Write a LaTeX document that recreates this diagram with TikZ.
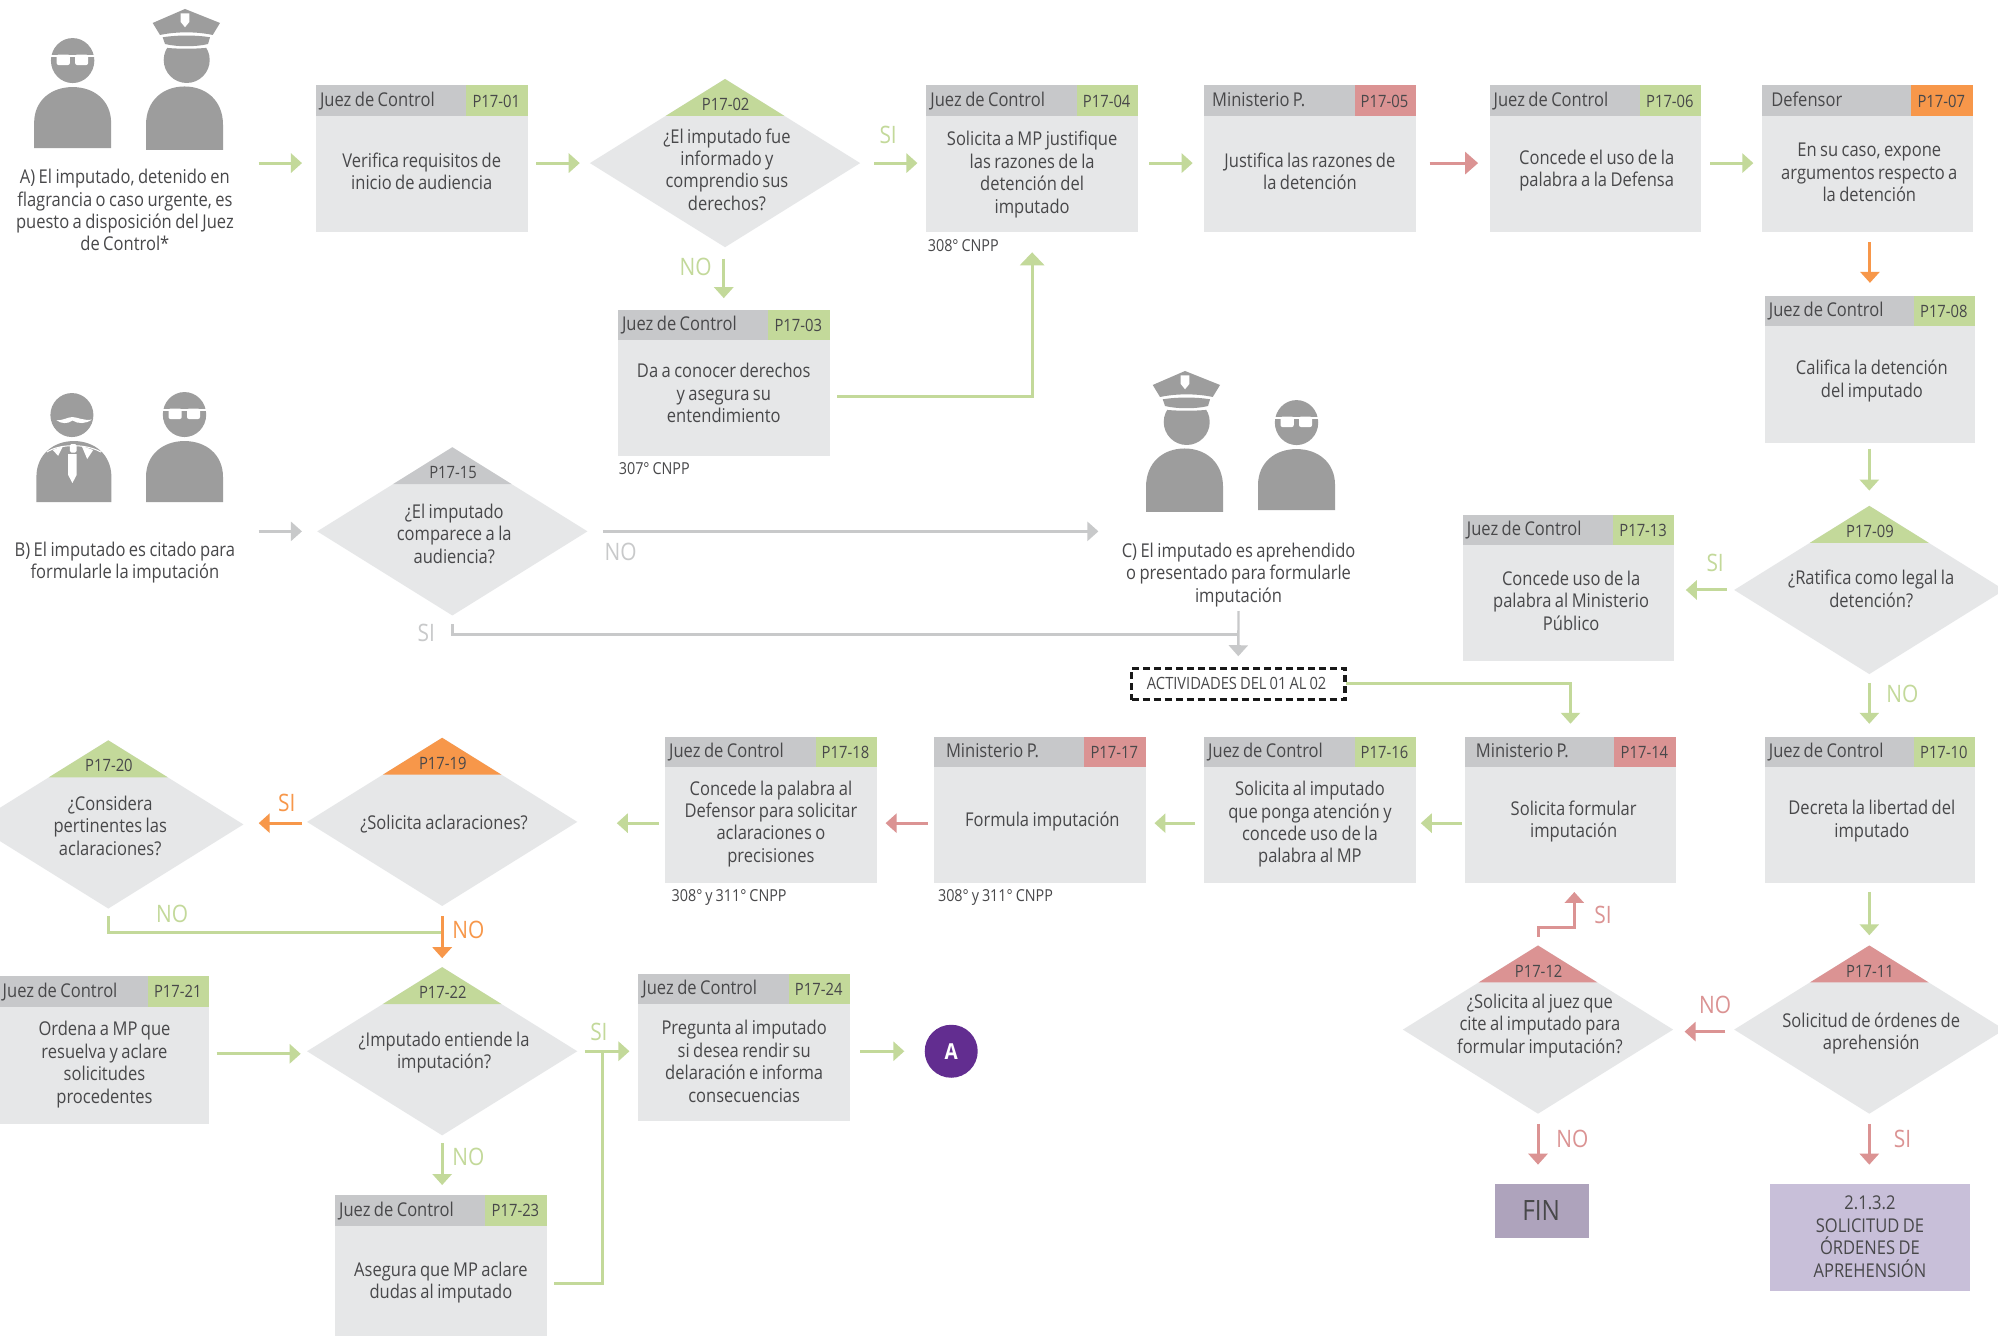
\documentclass[tikz,border=0pt]{standalone}
\usepackage{fontspec}
\setmainfont[FakeStretch=0.87,WordSpace=0.8]{Open Sans}
\usetikzlibrary{arrows.meta,fit,shapes.geometric,calc}
\definecolor{boxg}{HTML}{E6E7E8}
\definecolor{headg}{HTML}{C7C8CA}
\definecolor{cgreen}{HTML}{C3D99A}
\definecolor{cred}{HTML}{DB9393}
\definecolor{corange}{HTML}{F7974A}
\definecolor{cgray}{HTML}{C8C9CA}
\definecolor{ink}{HTML}{48484A}
\definecolor{iconc}{HTML}{9D9D9D}
\definecolor{purp}{HTML}{622D90}
\definecolor{finc}{HTML}{AEA3BC}
\definecolor{lavc}{HTML}{C8BFD9}
\newcommand\bodyfont{\fontsize{19}{22.4}\selectfont}
\newcommand\codefont{\fontsize{17}{18}\selectfont}
\newcommand\rolefont{\fontsize{19}{22}\selectfont}
\newcommand\notefont{\fontsize{16.5}{18}\selectfont}
\newcommand\labfont{\fontsize{24}{26}\selectfont}
\def\tdx{0}\def\tdy{0}
\newcommand\ts[2]{\def\tdx{#1}\def\tdy{#2}}
% process box: name,left,top,right,bottom,role,code,colour,text
\newcommand\pbox[9]{%
  \node[fit={(#2,#3)(#4,#5)},inner sep=0pt,outer sep=0pt,fill=boxg] (#1) {};
  \node[fit={(#2,#3)({#4-48},{#3+24})},inner sep=0pt,outer sep=0pt,fill=headg] (#1-h) {};
  \node[fit={({#4-48},#3)(#4,{#3+24})},inner sep=0pt,outer sep=0pt,fill=#8] (#1-c) {};
  \node[anchor=base west,inner sep=0pt,text=ink,font=\rolefont] (#1-r) at ({#2+3},{#3+16.5}) {#6};
  \node[anchor=base,inner sep=0pt,text=ink,font=\codefont] (#1-k) at ({#4-24.5},{#3+17}) {#7};
  \node[inner sep=0pt,align=center,text=ink,font=\bodyfont] (#1-t) at ({(#2+#4)/2+\tdx},{(#3+24+#5)/2-1+\tdy}) {#9};
  \ts{0}{0}%
}
% decision: name,cx,cy,code,colour,text y,text
\newcommand\pdiam[7]{%
  \node[diamond,aspect=1.6,minimum width=270.2pt,minimum height=168.2pt,inner sep=0pt,outer sep=0pt,fill=boxg] (#1) at (#2,#3) {};
  \fill[#5] (#1.north) -- ++(-46.6,29) -- ++(93.2,0) -- cycle;
  \node[inner sep=0pt,text=ink,font=\codefont] (#1-k) at ({#2+0.5},{#3-46}) {#4};
  \node[inner sep=0pt,align=center,text=ink,font=\bodyfont] (#1-t) at ({#2+1.5},#6) {#7};
}
\newcommand\headglass{%
  \fill[iconc] (0,87.5) ellipse [x radius=21.7,y radius=22.5];
  \fill[white] (-23,91) rectangle (23,93);
  \fill[white,rounded corners=2pt] (-16,83) rectangle (-2.8,93.5);
  \fill[white,rounded corners=2pt] (2.5,83) rectangle (15.5,93.5);
}
\newcommand\iconimp[1]{\begin{scope}[shift={(#1)},x=1pt,y=1pt]
  \fill[iconc] (-38.5,0) -- (-38.5,25) .. controls (-38.5,48) and (-21,61) .. (0,61) .. controls (21,61) and (38.5,48) .. (38.5,25) -- (38.5,0) -- cycle;
  \headglass
\end{scope}}
\newcommand\iconoff[1]{\begin{scope}[shift={(#1)},x=1pt,y=1pt]
  \fill[iconc] (-38.5,0) -- (-38.5,25) .. controls (-38.5,50) and (-21,63.5) .. (0,63.5) .. controls (21,63.5) and (38.5,50) .. (38.5,25) -- (38.5,0) -- cycle;
  \begin{scope}\clip (-30,60) -- (-30,103.5) .. controls (-10,100.5) and (14,100.5) .. (34,103.5) -- (34,60) -- cycle;
    \fill[iconc] (2.2,90) circle [radius=23];
  \end{scope}
  \fill[iconc] (-21.8,112.7) .. controls (-8,115) and (12,115) .. (25.5,112.7) -- (23.5,106) .. controls (12,103) and (-8,103) .. (-19.5,106) -- cycle;
  \fill[iconc] (-31.8,127) -- (0.5,141) -- (35.5,127) -- (28.2,115) .. controls (12,118.5) and (-8,118.5) .. (-24.5,115) -- cycle;
  \fill[white] (-3.8,136.7) -- (4.8,136.7) -- (4.8,128) -- (0.5,122.7) -- (-3.8,128) -- cycle;
\end{scope}}
\newcommand\iconlaw[1]{\begin{scope}[shift={(#1)},x=1pt,y=1pt]
  \fill[iconc] (-37.5,0) -- (-37.5,25) .. controls (-37.5,48) and (-20,61) .. (0,61) .. controls (20,61) and (37.5,48) .. (37.5,25) -- (37.5,0) -- cycle;
  \fill[iconc] (-2,87) ellipse [x radius=21.5,y radius=22];
  \fill[white] (-17.5,82) .. controls (-12,81) and (-6,85) .. (-1.5,85) .. controls (3,85) and (10,81) .. (18,82.5) .. controls (12,78) and (4,78) .. (-1.3,81.5) .. controls (-6,78) and (-13,78) .. (-17.5,82) -- cycle;
  \draw[white,line width=1pt] (-27,50) .. controls (-14,58.5) and (12,58.5) .. (27,50);
  \fill[white] (-21.3,52) -- (-10.7,56.3) -- (-15.7,46.3) -- cycle;
  \fill[white] (19.3,52) -- (7.7,56.3) -- (13.3,43) -- cycle;
  \fill[white,rounded corners=1.5pt] (-4,49.5) rectangle (2.7,58);
  \fill[white] (-5.7,48) -- (2.7,48) -- (2.7,27) -- (-1.5,19) -- (-5.7,27) -- cycle;
\end{scope}}
\tikzset{
  conn/.style={line width=3pt},
  garr/.style={conn,draw=cgreen,-{Triangle[length=11pt,width=19pt]},cgreen},
  rarr/.style={conn,draw=cred,-{Triangle[length=11pt,width=19pt]},cred},
  oarr/.style={conn,draw=corange,-{Triangle[length=11pt,width=19pt]},corange},
  carr/.style={line width=2.4pt,draw=cgray,-{Triangle[length=11pt,width=19pt]},cgray},
  cgap/.style 2 args={shorten <=#1*1.2742pt,shorten >=#2*1.2742pt},
  lab/.style={inner sep=0pt,font=\labfont},
  note/.style={inner sep=0pt,anchor=west,text=ink,font=\notefont},
  freetext/.style={inner sep=0pt,outer sep=0pt,align=center,text=ink,font=\bodyfont,minimum width=#1*1.2742pt},
}
\begin{document}
\begin{tikzpicture}[x=1.2742pt,y=-1.2742pt]
\path[use as bounding box,clip] (0,0) rectangle (1568,1048);
\fill[white] (0,0) rectangle (1568,1048);
% icons
\iconimp{57,116.2}
\iconoff{144.8,117.7}
\iconlaw{58,394}
\iconimp{144.8,394}
\iconoff{929.6,401.8}
\iconimp{1017.5,400.3}
% free texts
\node[freetext=190] (tA) at (98,165) {A) El imputado, detenido en\\flagrancia o caso urgente, es\\puesto a disposición del Juez\\de Control*};
\node[freetext=190] (tB) at (98,441.5) {B) El imputado es citado para\\formularle la imputación};
\node[freetext=196] (tC) at (972,451) {C) El imputado es aprehendido\\o presentado para formularle\\imputación};
% boxes
\ts{0}{-1}\pbox{p01}{248}{67}{414}{182}{Juez de Control}{P17-01}{cgreen}{Verifica requisitos de\\inicio de audiencia}
\ts{0}{1.5}\pbox{p04}{727}{67}{893}{182}{Juez de Control}{P17-04}{cgreen}{Solicita a MP justifique\\las razones de la\\detención del\\imputado}
\ts{0}{-1}\pbox{p05}{945}{67}{1111}{182}{\hspace*{4pt}Ministerio P.}{P17-05}{cred}{Justifica las razones de\\la detención}
\ts{1}{-1.5}\pbox{p06}{1169}{67}{1335}{182}{Juez de Control}{P17-06}{cgreen}{Concede el uso de la\\palabra a la Defensa}
\ts{1.5}{0}\pbox{p07}{1383}{67}{1548}{182}{\hspace*{5pt}Defensor}{P17-07}{corange}{En su caso, expone\\argumentos respecto a\\la detención}
\ts{0}{-3}\pbox{p03}{485}{243}{651}{358}{Juez de Control}{P17-03}{cgreen}{Da a conocer derechos\\y asegura su\\entendimiento}
\ts{1.5}{-2}\pbox{p08}{1385}{232}{1550}{348}{Juez de Control}{P17-08}{cgreen}{Califica la detención\\del imputado}
\ts{2}{-1}\pbox{p13}{1148}{404}{1314}{519}{Juez de Control}{P17-13}{cgreen}{Concede uso de la\\palabra al Ministerio\\Público}
\ts{1.5}{-2}\pbox{p10}{1385}{578}{1550}{693}{Juez de Control}{P17-10}{cgreen}{Decreta la libertad del\\imputado}
\ts{2.5}{-2}\pbox{p14}{1150}{578}{1315}{693}{\hspace*{6.5pt}Ministerio P.}{P17-14}{cred}{Solicita formular\\imputación}
\ts{0}{0.5}\pbox{p16}{945}{578}{1111}{693}{Juez de Control}{P17-16}{cgreen}{Solicita al imputado\\que ponga atención y\\concede uso de la\\palabra al MP}
\ts{2}{-2}\pbox{p17}{733}{578}{899}{693}{\hspace*{8pt}Ministerio P.}{P17-17}{cred}{Formula imputación}
\pbox{p18}{522}{578}{688}{693}{Juez de Control}{P17-18}{cgreen}{Concede la palabra al\\Defensor para solicitar\\aclaraciones o\\precisiones}
\ts{0.5}{0.5}\pbox{p21}{-1}{766}{164}{882}{Juez de Control}{P17-21}{cgreen}{Ordena a MP que\\resuelva y aclare\\solicitudes\\procedentes}
\pbox{p24}{501}{764}{667}{880}{Juez de Control}{P17-24}{cgreen}{Pregunta al imputado\\si desea rendir su\\delaración e informa\\consecuencias}
\pbox{p23}{263}{938}{429}{1053}{Juez de Control}{P17-23}{cgreen}{Asegura que MP aclare\\dudas al imputado}
% decisions
\pdiam{d02}{569}{128}{P17-02}{cgreen}{133}{¿El imputado fue\\informado y\\comprendio sus\\derechos?}
\pdiam{d15}{355}{417}{P17-15}{headg}{419}{¿El imputado\\comparece a la\\audiencia?}
\pdiam{d09}{1467}{463}{P17-09}{cgreen}{462}{¿Ratifica como legal la\\detención?}
\pdiam{d11}{1467}{808}{P17-11}{cred}{811}{Solicitud de órdenes de\\aprehensión}
\pdiam{d12}{1207}{808}{P17-12}{cred}{805}{¿Solicita al juez que\\cite al imputado para\\formular imputación?}
\pdiam{d19}{347}{645}{P17-19}{corange}{647}{¿Solicita aclaraciones?}
\pdiam{d20}{85}{647}{P17-20}{cgreen}{648}{¿Considera\\pertinentes las\\aclaraciones?}
\pdiam{d22}{347}{825}{P17-22}{cgreen}{826}{¿Imputado entiende la\\imputación?}
% terminals
\node[fit={(1173,929)(1247,971.6)},inner sep=0pt,outer sep=0pt,fill=finc] (fin) {};
\node[inner sep=0pt,text=ink,font=\fontsize{28}{30}\selectfont] (fint) at (1209.5,950) {FIN};
\node[fit={(1389,929)(1546,1013)},inner sep=0pt,outer sep=0pt,fill=lavc] (b213) {};
\node[inner sep=0pt,align=center,text=ink,font=\bodyfont] (b213t) at (1467.5,970.5) {2.1.3.2\\SOLICITUD DE\\ÓRDENES DE\\APREHENSIÓN};
\node[circle,fill=purp,minimum size=53pt,inner sep=0pt,outer sep=0pt,text=white,font=\fontsize{22}{24}\selectfont\bfseries] (ca) at (746.5,825) {A};
\node[fit={(888,524.5)(1055.5,549)},inner sep=0pt,outer sep=0pt,draw=black!90,line width=3.6pt,dash pattern=on 7pt off 4pt] (act) {};
\node[inner sep=0pt,text=ink,font=\fontsize{16.9}{18}\selectfont] (actt) at (970.5,536.5) {ACTIVIDADES DEL 01 AL 02};
% notes
\node[note] (n04) at (728,193) {308° CNPP};
\node[note] (n03) at (485.5,368) {307° CNPP};
\node[note] (n18) at (527,704.5) {308° y 311° CNPP};
\node[note] (n17) at (736,704.5) {308° y 311° CNPP};
% helpers
\coordinate (rowC) at (0,646);
\coordinate (m12) at (1235.5,728);
\coordinate (m03) at (0,311);
\coordinate (j31) at (972,498);
\coordinate (j20) at (347.5,732);
\coordinate (j23) at (473,825);
% top row
\draw[garr,cgap={10}{11}] (tA.east |- d02.west) -- (p01.west |- d02.west);
\draw[garr,cgap={7}{8}] (p01.east |- d02.west) -- (d02.west);
\draw[garr,cgap={11}{7}] (d02.east) -- (p04.west |- d02.east);
\draw[garr,cgap={9}{9}] (p04.east |- d02.east) -- (p05.west |- d02.east);
\draw[rarr,-{Triangle[length=13pt,width=22pt]},cgap={11}{9}] (p05.east |- d02.east) -- (p06.west |- d02.east);
\draw[garr,cgap={7}{7}] (p06.east |- d02.east) -- (p07.west |- d02.east);
\draw[oarr,cgap={8}{10}] (p07.south -| p08.north) -- (p08.north);
\draw[garr,cgap={4}{12}] (p08.south -| d09.north) -- (d09.north);
\draw[garr,cgap={6}{9}] (d09.west) -- (p13.east |- d09.west);
\draw[garr,cgap={7}{10}] (d09.south) -- (d09.south |- p10.north);
\draw[garr,cgap={7}{8}] (p10.south -| d11.north) -- (d11.north);
\draw[rarr,cgap={7}{9}] ([yshift=-2pt]d11.west) -- ([yshift=-2pt]d12.east);
\draw[rarr,cgap={8}{15}] (d11.south) -- (d11.south |- b213.north);
\draw[rarr,cgap={8}{15}] (d12.south) -- (d12.south |- fin.north);
\draw[rarr,cgap={7}{7}] (d12.north) |- (m12) -- (m12 |- p14.south);
% middle row
\draw[garr,cgap={3}{4}] (p14.west |- rowC) -- (p16.east |- rowC);
\draw[garr,cgap={7}{7}] (p16.west |- rowC) -- (p17.east |- rowC);
\draw[rarr,cgap={5}{7}] (p17.west |- rowC) -- (p18.east |- rowC);
\draw[garr,cgap={5}{31}] (p18.west |- rowC) -- (d19.east |- rowC);
\draw[oarr,cgap={4}{12}] (d19.west |- rowC) -- (d20.east |- rowC);
\draw[conn,draw=cgreen,shorten <=7.6pt] (d20.south) |- (j20);
\draw[oarr,cgap={8}{7}] (d19.south) -- (d22.north);
% lower left
\draw[garr,cgap={6}{5}] (p21.east |- 0,827) -- (d22.west |- 0,827);
\draw[garr,cgap={6}{7}] (d22.east) -- (p24.west |- d22.east);
\draw[garr,cgap={6}{8}] (d22.south) -- (p23.north -| d22.south);
\draw[garr,cgap={8}{16}] (p24.east |- ca.west) -- (ca.west);
\draw[conn,draw=cgreen,shorten <=7.6pt] (p23.east |- 0,1007) -| (j23);
% upper left branch
\draw[garr,-{Triangle[length=13pt,width=24pt]},cgap={6}{16}] (p03.east |- m03) -| (p04.south);
\draw[garr,cgap={9}{9}] (p03.north |- d02.south) -- (p03.north);
% gray
\draw[carr,cgap={10}{12}] (tB.east |- d15.west) -- (d15.west);
\draw[carr,cgap={12}{12}] (d15.east) -- (tC.west |- d15.east);
\draw[line width=2.4pt,draw=cgray,shorten <=9pt] (d15.south) |- (j31);
\draw[carr,cgap={3.5}{9.5}] (tC.south) -- (act.north);
% actividades to P17-14
\draw[garr,cgap={1}{10}] (act.east) -| (p14.north);
% labels
\node[lab,text=cgreen] (l1) at (697,106) {SI};
\node[lab,text=cgreen] (l2) at (546,209.5) {NO};
\node[lab,text=cgreen] (l3) at (1346,442) {SI};
\node[lab,text=cgreen] (l4) at (1493,544.5) {NO};
\node[lab,text=cred] (l5) at (1346,789) {NO};
\node[lab,text=cred] (l6) at (1493,894) {SI};
\node[lab,text=cred] (l7) at (1234,894) {NO};
\node[lab,text=cred] (l8) at (1258,718) {SI};
\node[lab,text=corange] (l9) at (225,630) {SI};
\node[lab,text=corange] (l10) at (367.5,730) {NO};
\node[lab,text=cgreen] (l11) at (135,717.5) {NO};
\node[lab,text=cgreen] (l12) at (367.5,908) {NO};
\node[lab,text=cgreen] (l13) at (470,809.5) {SI};
\node[lab,text=cgray] (l14) at (487,433) {NO};
\node[lab,text=cgray] (l15) at (334.5,497) {SI};
\end{tikzpicture}
\end{document}
